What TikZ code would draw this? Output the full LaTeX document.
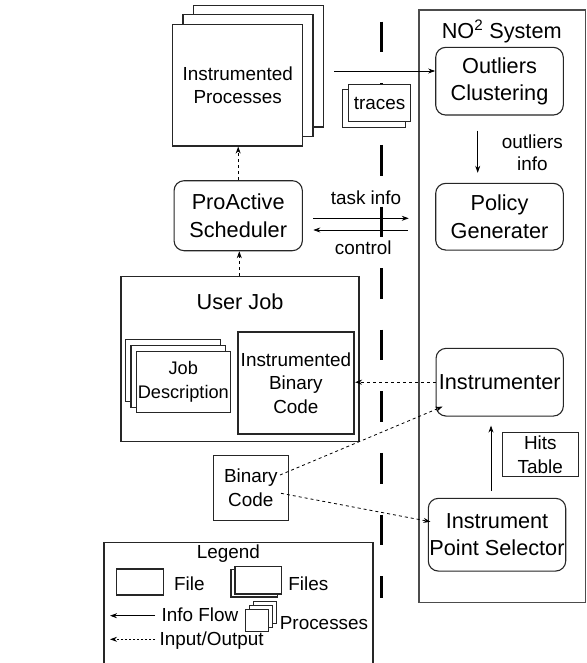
\documentclass[tikz,border=0pt]{standalone}
\usepackage{fontspec}
\setmainfont{Liberation Sans}
\usetikzlibrary{arrows.meta,calc}
\begin{document}
\begin{tikzpicture}[x=1pt,y=-1pt,
  big/.style={font=\fontsize{21.7}{27.2}\selectfont},
  small/.style={font=\fontsize{18.9}{23.5}\selectfont},
  box/.style={draw=black!85,line width=1.1pt,fill=white,rectangle,inner sep=0pt,align=center},
  rbox/.style={box,rounded corners=10pt},
  arr/.style={-{Stealth[length=7pt,width=5pt]},line width=0.8pt},
  darr/.style={arr,dash pattern=on 3pt off 3pt},
  txt/.style={inner sep=0pt,align=center}
]
\useasboundingbox (0,0) rectangle (586,663);

% NO2 system frame
\node[draw=black!70,line width=1.1pt,rectangle,minimum width=166.5pt,minimum height=592.7pt,inner sep=0pt] (sys) at (502.25,306.35) {};
\node[txt,big] (systitle) at (501.7,31.7) {NO\textsuperscript{2} System};

% divider
\coordinate (dtop) at (381.7,21.7);
\coordinate (dbot) at (381.7,598);

% Instrumented processes (stack)
\node[box,minimum width=130pt,minimum height=121.7pt] (ip3) at (258.3,66.2) {};
\node[box,minimum width=130pt,minimum height=121.7pt] (ip2) at (248,75.7) {};
\node[box,small,minimum width=130pt,minimum height=121.7pt] (ip) at (237.7,85.2) {Instrumented\\Processes};

% divider drawn here (under traces)
\draw[line width=3pt,dash pattern=on 30.6pt off 31pt] (dtop) -- (dbot);

% traces
\node[box,minimum width=62.4pt,minimum height=37.4pt] (tr2) at (373.9,108.5) {};
\node[box,small,minimum width=62.4pt,minimum height=37.4pt] (tr) at (379.5,103) {traces};

% NO2 internal nodes
\node[rbox,big,minimum width=127.6pt,minimum height=67.7pt] (oc) at (499.5,81.2) {Outliers\\Clustering};
\node[rbox,big,minimum width=127.6pt,minimum height=66.7pt] (pg) at (499.5,216.7) {Policy\\Generater};
\node[rbox,big,minimum width=127.3pt,minimum height=67.7pt] (ins) at (499.7,382.2) {Instrumenter};
\node[rbox,big,minimum width=137.4pt,minimum height=72.7pt] (ips) at (497,534.7) {Instrument\\Point Selector};
\node[box,small,minimum width=76pt,minimum height=44.4pt] (hits) at (540.3,454.5) {Hits\\Table};
\node[txt,small,font=\fontsize{18.9}{21.6}\selectfont] (oinfo) at (532.3,152.5) {outliers\\info};

% Scheduler
\node[rbox,big,minimum width=128.3pt,minimum height=70pt] (sch) at (238.2,215.7) {ProActive\\Scheduler};
\node[txt,small] (tinfo) at (366,197.3) {task info};
\node[txt,small] (ctrl) at (363.3,247.5) {control};

% User job
\node[box,minimum width=238pt,minimum height=165.7pt] (uj) at (240,358.9) {};
\node[txt,big] (ujt) at (240,301.7) {User Job};
\node[box,small,line width=2pt,minimum width=116.3pt,minimum height=101.7pt] (ibc) at (295.9,383.2) {Instrumented\\Binary\\Code};
\node[box,minimum width=94.5pt,minimum height=62pt] (jd3) at (173,370.7) {};
\node[box,minimum width=94.5pt,minimum height=62pt] (jd2) at (178.2,376.2) {};
\node[box,small,font=\fontsize{18.2}{24.4}\selectfont,minimum width=94.5pt,minimum height=61pt] (jd) at (183.3,381.7) {Job\\Description};

% Binary code
\node[box,small,minimum width=75pt,minimum height=65.7pt] (bc) at (250.8,487.9) {Binary\\Code};

% connectors
\coordinate (trstart) at (334,71);
\draw[arr] (trstart) -- (trstart -| oc.west);
\draw[arr,shorten <=15pt,shorten >=10pt] ([xshift=-21.8pt]oc.south) -- ([xshift=-21.8pt]pg.north);
\draw[arr,shorten <=10.4pt,shorten >=26.4pt] ([yshift=-2.6pt]sch.east) -- ([yshift=-2.6pt]sch.east -| pg.west);
\draw[arr,shorten <=27.4pt,shorten >=10.4pt] ([yshift=-14.3pt]sch.east -| pg.west) -- ([yshift=-14.3pt]sch.east);
\draw[darr] (sch.north) -- (sch.north |- ip.south);
\draw[darr] ([xshift=-0.7pt]uj.north) -- ([xshift=-0.7pt]uj.north |- sch.south);
\draw[darr] (ins.west) -- (ins.west -| ibc.east);
\coordinate (bc1) at ($(bc.center)+(29.2,-12.9)$);
\coordinate (bc2) at ($(bc.center)+(30.2,5.4)$);
\coordinate (insin) at ($(ins.south west)+(7,-10)$);
\coordinate (ipsin) at ($(ips.west)+(2.7,-13)$);
\draw[darr] (bc1) -- (insin);
\draw[darr] (bc2) -- (ipsin);
\draw[arr,shorten <=6.6pt,shorten >=9pt] ([xshift=-6pt]ips.north) -- ([xshift=-6pt]ips.north |- ins.south);

% Legend
\draw[draw=black!85,line width=1.1pt] (104,663) -- (104,542.3) -- (373,542.3) -- (373,663);
\node[txt,small] (legt) at (228.3,553.3) {Legend};
\node[box,minimum width=46.6pt,minimum height=26pt] (lfile) at (140,582) {};
\node[txt,small] (lfilet) at (189.3,583.3) {File};
\node[box,minimum width=46.7pt,minimum height=27.3pt] (lfiles2) at (254.3,583.3) {};
\node[box,minimum width=46.7pt,minimum height=27.3pt] (lfiles) at (258.3,580.3) {};
\node[txt,small] (lfilest) at (308.3,583.3) {Files};
\node[box,minimum width=23.3pt,minimum height=21.7pt] (lp3) at (264.7,612.2) {};
\node[box,minimum width=23.3pt,minimum height=21.7pt] (lp2) at (260.7,616.2) {};
\node[box,minimum width=23.3pt,minimum height=21.7pt] (lp) at (256.7,620.2) {};
\node[txt,small] (lpt) at (324,623.3) {Processes};
\coordinate (if1) at (155,615.7);
\coordinate (if2) at (110,615.7);
\draw[arr] (if1) -- (if2);
\node[txt,small] (ift) at (200,615) {Info Flow};
\coordinate (io1) at (155,639.3);
\coordinate (io2) at (110,639.3);
\draw[darr,dash pattern=on 2pt off 2pt] (io1) -- (io2);
\node[txt,small] (iot) at (211.7,640.7) {Input/Output};
\end{tikzpicture}
\end{document}
